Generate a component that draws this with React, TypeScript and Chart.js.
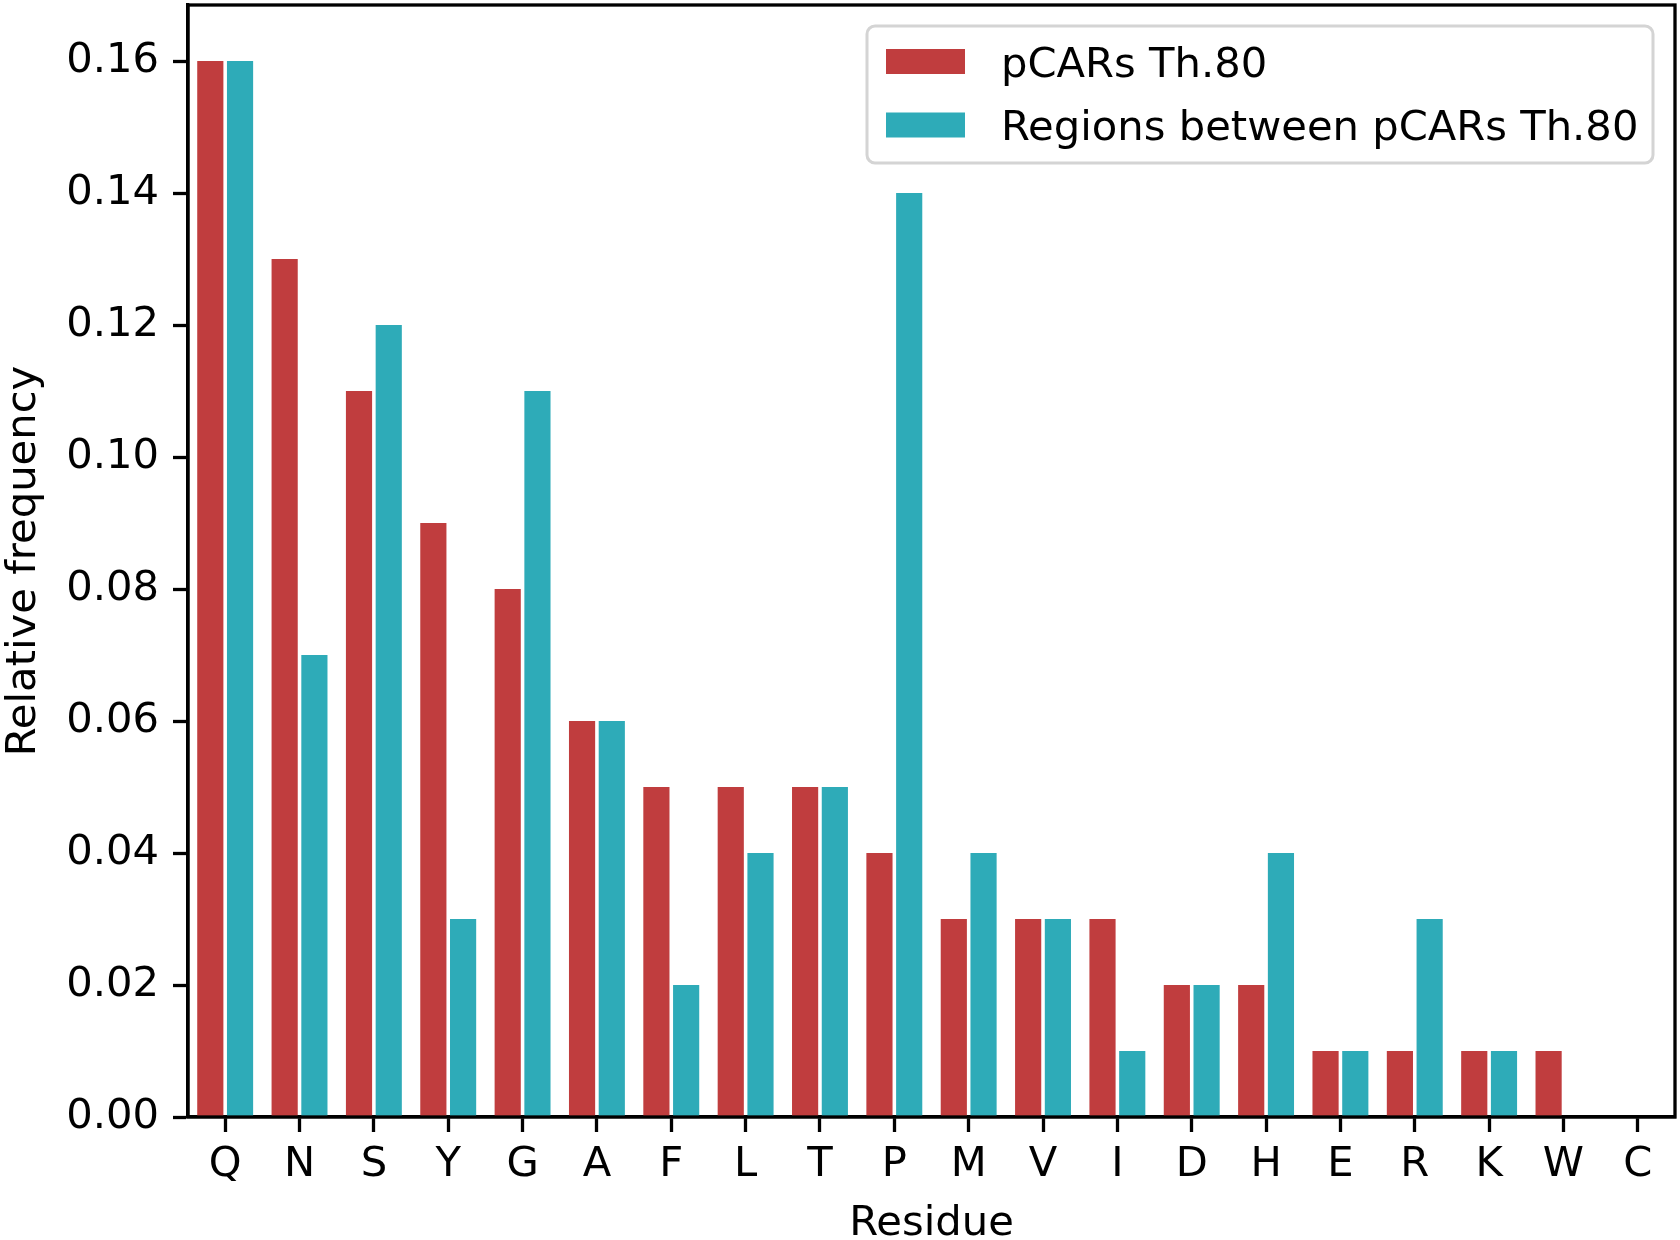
import { useEffect, useRef } from "react";
import Chart from "chart.js/auto";

const residues = ["Q", "N", "S", "Y", "G", "A", "F", "L", "T", "P", "M", "V", "I", "D", "H", "E", "R", "K", "W", "C"];
const pcarsValues = [0.16, 0.13, 0.11, 0.09, 0.08, 0.06, 0.05, 0.05, 0.05, 0.04, 0.03, 0.03, 0.03, 0.02, 0.02, 0.01, 0.01, 0.01, 0.01, 0];
const betweenValues = [0.16, 0.07, 0.12, 0.03, 0.11, 0.06, 0.02, 0.04, 0.05, 0.14, 0.04, 0.03, 0.01, 0.02, 0.04, 0.01, 0.03, 0.01, 0, 0];
const seriesLabels = ["pCARs Th.80", "Regions between pCARs Th.80"];
const seriesColors = ["#c03d3e", "#2eabb8"];
const yTicks = [0, 0.02, 0.04, 0.06, 0.08, 0.1, 0.12, 0.14, 0.16];

const FONT = "'DejaVu Sans', sans-serif";
const FONT_SIZE = 41.7;

// frame on all four sides plus a legend inside the plot, matplotlib style
const framePlugin = {
    id: "frameAndLegend",
    afterDraw(chart: any) {
        const { ctx, chartArea } = chart;
        const { left, top, right, bottom } = chartArea;
        ctx.save();

        // legend box
        const lx = 867, ly = 26, lw = 786, lh = 137, r = 8;
        ctx.beginPath();
        ctx.moveTo(lx + r, ly);
        ctx.arcTo(lx + lw, ly, lx + lw, ly + lh, r);
        ctx.arcTo(lx + lw, ly + lh, lx, ly + lh, r);
        ctx.arcTo(lx, ly + lh, lx, ly, r);
        ctx.arcTo(lx, ly, lx + lw, ly, r);
        ctx.closePath();
        ctx.fillStyle = "rgba(255,255,255,0.8)";
        ctx.fill();
        ctx.lineWidth = 3;
        ctx.strokeStyle = "#d4d4d4";
        ctx.stroke();

        ctx.font = `${FONT_SIZE}px ${FONT}`;
        ctx.textBaseline = "middle";
        ctx.textAlign = "left";
        chart.data.datasets.forEach((ds: any, i: number) => {
            const cy = 61 + i * 63.5;
            ctx.fillStyle = ds.backgroundColor;
            ctx.fillRect(886, cy - 12, 79, 25);
            ctx.fillStyle = "#000";
            ctx.fillText(ds.label, 1001, cy + 5);
        });

        // spines
        ctx.strokeStyle = "#000";
        ctx.lineWidth = 3.3;
        ctx.strokeRect(left, top, right - left, bottom - top);
        ctx.restore();
    },
};

const App = () => {
    const canvasRef = useRef<HTMLCanvasElement>(null);

    useEffect(() => {
        document.body.style.margin = "0";
        if (!canvasRef.current) return;
        const chart = new Chart(canvasRef.current, {
            type: "bar",
            data: {
                labels: residues,
                datasets: [
                    { label: seriesLabels[0], data: pcarsValues, backgroundColor: seriesColors[0] },
                    { label: seriesLabels[1], data: betweenValues, backgroundColor: seriesColors[1] },
                ],
            },
            options: {
                responsive: false,
                animation: false,
                devicePixelRatio: 1,
                layout: { padding: { top: 5, right: 5, left: 0, bottom: 0 } },
                datasets: { bar: { categoryPercentage: 0.8, barPercentage: 0.88 } },
                plugins: {
                    legend: { display: false },
                    tooltip: { enabled: false },
                },
                scales: {
                    x: {
                        grid: {
                            offset: false,
                            drawOnChartArea: false,
                            drawTicks: true,
                            tickLength: 15,
                            tickWidth: 3.3,
                            tickColor: "#000",
                        },
                        border: { display: true, color: "#000", width: 3.3 },
                        ticks: { color: "#000", font: { family: FONT, size: FONT_SIZE }, padding: 8, maxRotation: 0 },
                        title: {
                            display: true,
                            text: "Residue",
                            color: "#000",
                            font: { family: FONT, size: FONT_SIZE, lineHeight: 0.75 },
                            padding: 0,
                        },
                        afterFit: (scale: any) => {
                            scale.height = 123;
                            scale.paddingLeft = 0;
                            scale.paddingRight = 0;
                        },
                    },
                    y: {
                        min: 0,
                        max: 0.1685,
                        grid: { drawOnChartArea: false, drawTicks: true, tickLength: 15, tickWidth: 3.3, tickColor: "#000" },
                        border: { display: true, color: "#000", width: 3.3 },
                        afterBuildTicks: (scale: any) => {
                            scale.ticks = yTicks.map((v) => ({ value: v }));
                        },
                        ticks: {
                            color: "#000",
                            font: { family: FONT, size: FONT_SIZE },
                            padding: 14,
                            callback: (v: any) => Number(v).toFixed(2),
                        },
                        title: {
                            display: true,
                            text: "Relative frequency",
                            color: "#000",
                            font: { family: FONT, size: FONT_SIZE, lineHeight: 1.15 },
                            padding: 0,
                        },
                        afterFit: (scale: any) => {
                            scale.width = 188;
                            scale.paddingTop = 0;
                            scale.paddingBottom = 0;
                        },
                    },
                },
            },
            plugins: [framePlugin],
        });
        return () => {
            chart.destroy();
        };
    }, []);

    return (
        <div style={{ width: "1680px", height: "1240px", background: "#fff" }}>
            <canvas ref={canvasRef} width={1680} height={1240}></canvas>
        </div>
    );
};

export default App;
